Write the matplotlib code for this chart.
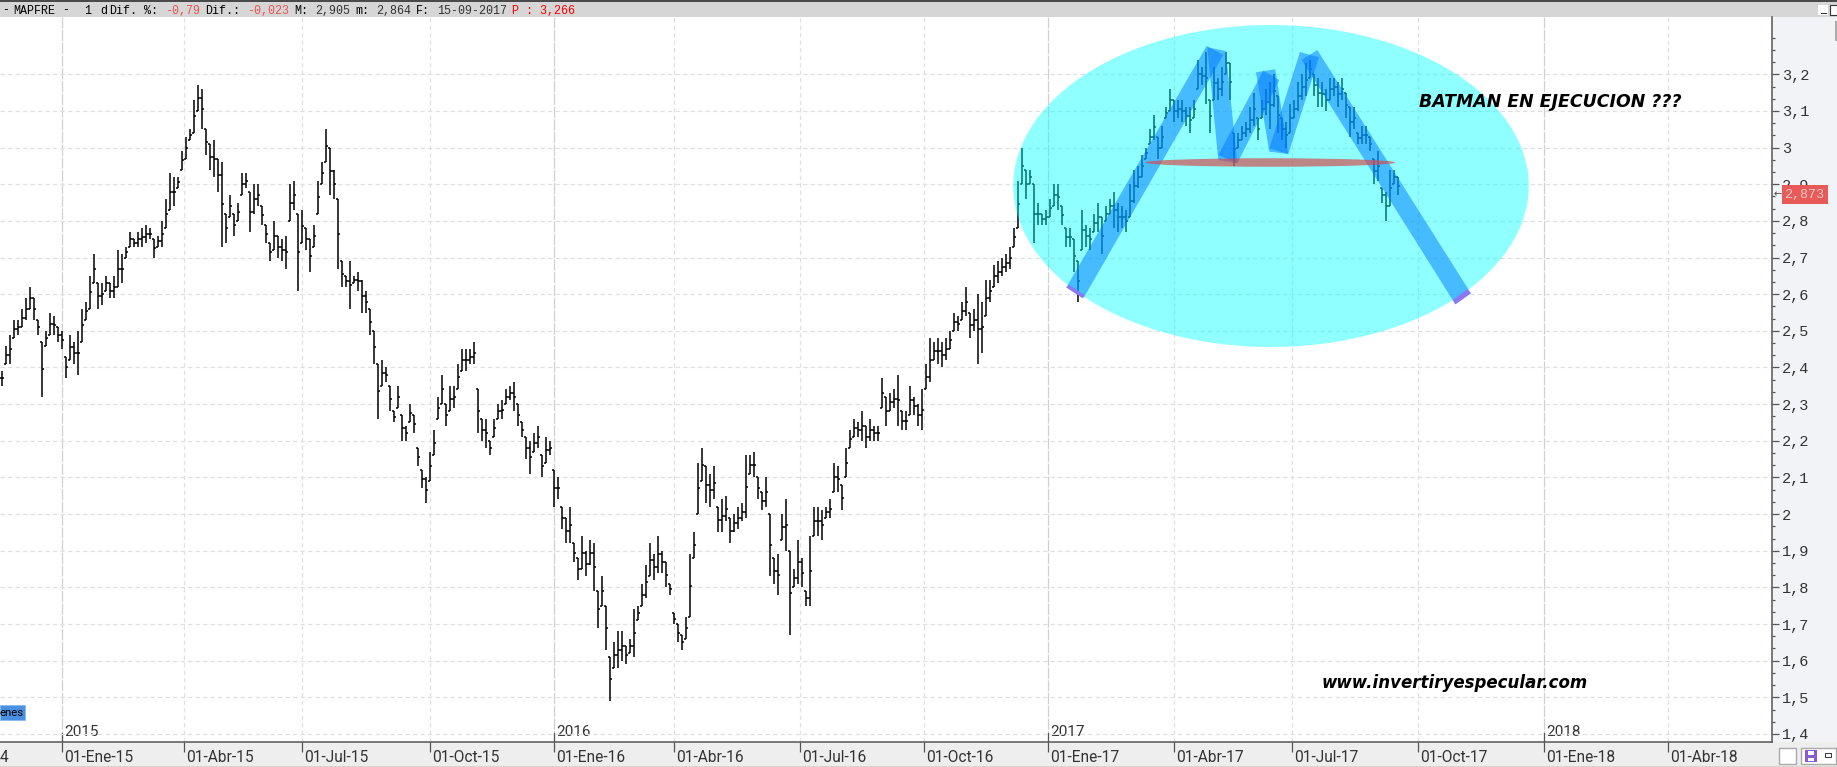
import matplotlib
matplotlib.use("Agg")
import matplotlib.pyplot as plt
import numpy as np
from matplotlib.collections import LineCollection
from matplotlib.patches import Ellipse, Polygon, Rectangle
from matplotlib.transforms import Affine2D, ScaledTranslation

# ---- data: bars read every second session (about 4 px apart) ----
highs_2015 = [2.39,2.46,2.49,2.53,2.53,2.56,2.59,2.62,2.59,2.53,2.47,2.50,2.55,2.54,2.51,2.50,2.43,2.49,2.47,2.50,
 2.56,2.58,2.65,2.71,2.63,2.63,2.65,2.63,2.65,2.72,2.71,2.73,2.77,2.75,2.77,2.78,2.79,2.78,2.75,2.76,
 2.80,2.86,2.93,2.92,2.92,2.99,3.03,3.05,3.13,3.17,3.16,3.05,3.01,3.02,2.97,2.96,2.82,2.87,2.82,2.85,
 2.93,2.93,2.88,2.90,2.90,2.84,2.79,2.74,2.80,2.76,2.75,2.76,2.90,2.91,2.82,2.83,2.78,2.75,2.79,2.91,
 2.96,3.05,3.00,2.94,2.86,2.69,2.65,2.69,2.65,2.66,2.64,2.61,2.56,2.50,2.41,2.42,2.40,2.35,2.28]
lows_2015 = [2.35,2.41,2.41,2.48,2.49,2.51,2.53,2.56,2.53,2.49,2.32,2.46,2.49,2.49,2.47,2.45,2.37,2.42,2.41,2.38,
 2.47,2.53,2.56,2.63,2.56,2.57,2.61,2.59,2.59,2.62,2.63,2.70,2.73,2.73,2.73,2.73,2.74,2.75,2.70,2.73,
 2.73,2.78,2.83,2.84,2.89,2.94,2.97,3.02,3.04,3.10,3.05,2.98,2.94,2.92,2.88,2.73,2.74,2.81,2.76,2.80,
 2.87,2.89,2.77,2.82,2.84,2.79,2.74,2.69,2.72,2.70,2.69,2.67,2.80,2.83,2.61,2.74,2.72,2.66,2.73,2.82,
 2.90,2.96,2.87,2.86,2.67,2.62,2.62,2.56,2.63,2.61,2.55,2.55,2.49,2.41,2.26,2.35,2.36,2.28,2.25]

highs_2016a = [2.35,2.27,2.24,2.30,2.27,2.18,2.12,2.10,2.17,2.23,2.32,2.38,2.30,2.35,2.35,2.41,2.45,2.45,2.45,2.47,
 2.34,2.26,2.26,2.20,2.26,2.30,2.31,2.34,2.35,2.36,2.30,2.25,2.21,2.20,2.22,2.24,2.16,2.21,2.20,2.12,
 2.10,2.02,1.99,2.02,1.92,1.88,1.94,1.90,1.93,1.92,1.79,1.83,1.75,1.61,1.65,1.68,1.68,1.64,1.66,1.74,
 1.75,1.81,1.86,1.92,1.89,1.94,1.90,1.87,1.81,1.73,1.70,1.67,1.72,1.89,1.95,2.14]
lows_2016a = [2.29,2.20,2.20,2.25,2.22,2.13,2.07,2.03,2.09,2.16,2.26,2.30,2.24,2.28,2.29,2.34,2.39,2.39,2.41,2.41,
 2.22,2.20,2.18,2.16,2.21,2.26,2.26,2.30,2.31,2.28,2.24,2.21,2.15,2.11,2.17,2.18,2.10,2.14,2.16,2.02,
 2.04,1.96,1.92,1.92,1.87,1.82,1.85,1.83,1.86,1.79,1.69,1.75,1.63,1.49,1.58,1.58,1.60,1.59,1.62,1.61,
 1.71,1.75,1.77,1.83,1.82,1.84,1.84,1.80,1.78,1.70,1.65,1.63,1.66,1.72,1.88,2.00]

highs_2016b = [2.18,2.13,2.11,2.13,2.02,2.04,2.05,1.99,2.00,2.02,2.03,2.16,2.16,2.17,2.10,2.06,2.10,2.00,1.88,1.89,
 2.00,2.04,1.90,1.85,1.93,1.88,1.79,1.94,2.02,2.02,2.01,2.02,2.04,2.14,2.13,2.08,2.18,2.23,2.26,2.25,
 2.28,2.24,2.26,2.24,2.24,2.37,2.32,2.33,2.34,2.38]
lows_2016b = [2.09,2.03,2.02,2.04,1.95,1.95,1.98,1.92,1.95,1.96,1.98,1.99,2.11,2.10,2.04,2.01,2.02,1.83,1.81,1.78,
 1.93,1.90,1.67,1.80,1.81,1.80,1.75,1.75,1.94,1.94,1.93,1.99,1.99,2.06,2.06,2.01,2.10,2.18,2.21,2.21,
 2.20,2.18,2.20,2.20,2.20,2.29,2.24,2.28,2.29,2.24]

highs_2016c = [2.28,2.28,2.35,2.32,2.30,2.34,2.41,2.48,2.47,2.48,2.47,2.48,2.50,2.55,2.54,2.58,2.62,2.55,2.56,2.60,
 2.58,2.64,2.64,2.68,2.69,2.70,2.71,2.73,2.78,2.91]
lows_2016c = [2.23,2.23,2.27,2.27,2.24,2.23,2.34,2.36,2.42,2.41,2.40,2.42,2.45,2.50,2.50,2.53,2.54,2.48,2.50,2.41,
 2.44,2.54,2.58,2.62,2.63,2.65,2.66,2.67,2.73,2.78]

highs_2017 = [3.00,2.94,2.94,2.90,2.85,2.82,2.83,2.86,2.90,2.90,2.84,2.78,2.78,2.75,2.69,2.83,2.79,2.78,2.82,2.85,
 2.81,2.84,2.86,2.88,2.85,2.84,2.83,2.90,2.94,2.95,2.98,3.00,3.05,3.09,3.03,3.06,3.11,3.16,3.13,3.13,
 3.13,3.11,3.11,3.13,3.24,3.22,3.26,3.13,3.22,3.19,3.22,3.26,3.23,3.04,3.04,3.06,3.07,3.11,3.15,3.08,
 3.13,3.16,3.18,3.20,3.14,3.08,3.07,3.12,3.13,3.18,3.20,3.23,3.24,3.20,3.19,3.18,3.16,3.19,3.19,3.18,
 3.19,3.15,3.11,3.11,3.04,3.06,3.06,3.03,2.97,2.99,2.89,2.88,2.94,2.94,2.92]
lows_2017 = [2.90,2.86,2.90,2.74,2.79,2.79,2.79,2.81,2.84,2.83,2.79,2.73,2.73,2.66,2.58,2.72,2.73,2.72,2.77,2.77,
 2.71,2.80,2.82,2.78,2.77,2.78,2.77,2.81,2.85,2.89,2.92,2.97,3.01,3.02,2.97,3.00,3.08,3.10,3.07,3.08,
 3.07,3.06,3.04,3.08,3.16,3.17,3.12,3.04,3.13,3.13,3.14,3.20,3.13,2.95,3.00,3.02,3.03,3.04,3.06,3.02,
 3.08,3.09,3.05,3.11,3.04,3.02,3.00,3.04,3.08,3.10,3.13,3.14,3.19,3.14,3.11,3.11,3.10,3.13,3.14,3.11,
 3.13,3.08,3.03,3.05,3.01,3.01,3.01,2.99,2.90,2.91,2.85,2.80,2.84,2.90,2.87]

tick_sessions = [31, 92, 151, 215, 277, 337, 400, 462, 524, 587, 646, 709, 772, 834]
tick_labels = ["01-Ene-15","01-Abr-15","01-Jul-15","01-Oct-15","01-Ene-16","01-Abr-16","01-Jul-16",
               "01-Oct-16","01-Ene-17","01-Abr-17","01-Jul-17","01-Oct-17","01-Ene-18","01-Abr-18"]
year_sessions = [31, 277, 524, 772]
year_labels = ["2015", "2016", "2017", "2018"]
price_ticks = [1.4,1.5,1.6,1.7,1.8,1.9,2.0,2.1,2.2,2.3,2.4,2.5,2.6,2.7,2.8,2.9,3.0,3.1,3.2]
price_labels = ["1,4","1,5","1,6","1,7","1,8","1,9","2","2,1","2,2","2,3","2,4","2,5","2,6","2,7","2,8","2,9","3","3,1","3,2"]

highs = np.array(highs_2015 + highs_2016a + highs_2016b + highs_2016c + highs_2017)
lows = np.array(lows_2015 + lows_2016a + lows_2016b + lows_2016c + lows_2017)
sessions = 1 + 2 * np.arange(len(highs))

W, H = 1837, 767
AX_R, AX_T, AX_B = 1772, 17, 742
PX_PER_UNIT = 366.5

fig = plt.figure(figsize=(W / 100, H / 100), dpi=100, facecolor="white")
px = Affine2D().scale(1, -1).translate(0, H)   # image-pixel coordinates for the furniture

# window furniture
def frect(x, y, w, h, fc, ec="none", lw=0, z=0):
    fig.add_artist(Rectangle((x, y), w, h, transform=px, fc=fc, ec=ec, lw=lw, zorder=z))

frect(0, 0, W, 17, "#D6D6D6")
frect(0, 0, W, 1.6, "#4A4A4A", z=1)
frect(AX_R, 17, W - AX_R, AX_B - AX_T, "#F2F3F6")
frect(0, AX_B, W, H - AX_B, "#EEEEEE")
frect(0, 766, W, 1, "#D8D4CC", z=1)

ax = fig.add_axes([0, (H - AX_B) / H, AX_R / W, (AX_B - AX_T) / H], zorder=2)
ax.set_facecolor("white")
ax.set_xlim(0, AX_R / 2)
ax.set_ylim(1.4 - (AX_B - 734) / PX_PER_UNIT, 1.4 + (734 - AX_T) / PX_PER_UNIT)
for s in ("left", "top"):
    ax.spines[s].set_visible(False)
for s in ("right", "bottom"):
    ax.spines[s].set_color("#555555")
    ax.spines[s].set_linewidth(1.1)

# axes and grid
ax.yaxis.tick_right()
ax.set_yticks(price_ticks)
ax.set_yticklabels(price_labels, fontfamily="Liberation Mono", fontsize=11, color="#333333")
ax.set_yticks(np.arange(1.4, 3.33, 0.1 / 3), minor=True)
ax.tick_params(axis="y", which="major", length=4.8, width=0.9, color="#555555", pad=2.5)
ax.tick_params(axis="y", which="minor", length=2.4, width=0.9, color="#555555")
ax.set_xticks(tick_sessions)
ax.set_xticklabels(tick_labels, fontfamily="Roboto", fontsize=11.2, color="#333333", ha="left")
ax.tick_params(axis="x", length=7, width=0.9, color="#555555", pad=-1)
shift = ScaledTranslation(2 / 100, 0, fig.dpi_scale_trans)
for lab in ax.get_xticklabels():
    lab.set_transform(lab.get_transform() + shift)
ax.grid(axis="y", color="#E0E0E0", ls=(0, (3.5, 2.5)), lw=0.9, zorder=0)
for x in tick_sessions:
    strong = x in year_sessions
    ax.axvline(x, color="#D0D0D0" if strong else "#E0E0E0", lw=0.9,
               ls=(0, (9, 1.2)) if strong else (0, (3.5, 2.5)), zorder=0)
for x, y in zip(year_sessions, year_labels):
    ax.plot([x, x], [ax.get_ylim()[0], ax.get_ylim()[0] + 9 / PX_PER_UNIT], color="#555555", lw=0.9, zorder=1)
    ax.annotate(y, (x, ax.get_ylim()[0]), xytext=(1.5, 2.2), textcoords="offset points",
                family="Roboto", fontsize=11, color="#333333", va="bottom", ha="left", zorder=1)

# price bars
mids = (highs + lows) / 2
prev = np.r_[mids[0], mids[:-1]]
opens = np.clip(prev, lows, highs)
segs = [[(x, l), (x, h)] for x, h, l in zip(sessions, highs, lows)]
segs += [[(x - 1, o), (x, o)] for x, o in zip(sessions, opens)]
segs += [[(x, m), (x + 1, m)] for x, m in zip(sessions, mids)]
ax.add_collection(LineCollection(segs, colors="black", linewidths=1.1, zorder=3))

# hand-drawn overlays, placed in image pixels
ax.add_patch(Ellipse((1271, 186), 515.5, 322, transform=px, fc=(0, 1, 1), ec="none", alpha=0.44, zorder=4))
strokes = [
    [(1066.7, 286.7), (1084, 297.3), (1223.3, 55), (1206.7, 46)],
    [(1207.3, 47.3), (1225.7, 51), (1237.3, 163.3), (1218.3, 160)],
    [(1218.3, 155), (1237.3, 163.3), (1279.3, 80), (1263.3, 70.7)],
    [(1256, 72.3), (1275.3, 69.3), (1288.3, 154), (1269.3, 151.7)],
    [(1269.3, 148.3), (1288.3, 154), (1319, 57.3), (1300, 52)],
    [(1301.7, 60), (1317.3, 50), (1470.9, 293.3), (1455.4, 304.3)],
]
for pts in strokes:
    ax.add_patch(Polygon(pts, closed=True, transform=px, fc=(0, 120 / 255, 1), ec="none", alpha=0.5, zorder=5))
for pts in [[(1066, 287.3), (1069.3, 285), (1084.7, 295.3), (1082.7, 298.3)],
            [(1455.4, 304.3), (1470.9, 293.3), (1467.2, 289.3), (1452.8, 300)]]:
    ax.add_patch(Polygon(pts, closed=True, transform=px, fc="#8C78F5", ec="none", zorder=6))
ax.add_patch(Ellipse((1270.3, 162.5), 250, 8.5, transform=px, fc=(0.84, 0.27, 0.27), ec="none", alpha=0.65, zorder=7))

ax.text(1419, 102, "BATMAN EN EJECUCION ???", transform=px, family="DejaVu Sans", weight="bold",
        style="oblique", fontsize=12.5, color="black", va="center", ha="left", zorder=8)
ax.text(1322, 683, "www.invertiryespecular.com", transform=px, family="DejaVu Sans", weight="bold",
        style="oblique", fontsize=12, color="black", va="center", ha="left", zorder=8)

# "enes" badge and clipped axis label
ax.add_patch(Rectangle((0, 705), 25, 15, transform=px, fc="#4A90E2", ec="#8FBDEB", lw=0.7, zorder=8))
ax.text(0, 712.5, "enes", transform=px, family="Roboto", fontsize=8.2, color="black", va="center", ha="left", zorder=9)
fig.text(0, 757.5, "4", transform=px, family="Roboto", fontsize=11.2, color="#333333", va="center", ha="left", zorder=3)

# header read-out
hdr = [(2, "-", "black"), (13, "MAPFRE", "black"), (62, "-", "black"), (84, "1", "black"), (100, "d", "black"),
       (109, "Dif.", "black"), (144, "%:", "black"), (165, "-0,79", "#F05050"), (205, "Dif.:", "black"),
       (247, "-0,023", "#F05050"), (294, "M:", "black"), (315, "2,905", "#333333"), (355, "m:", "black"),
       (376, "2,864", "#333333"), (416, "F:", "black"), (437, "15-09-2017", "#333333"),
       (512, "P : 3,266", "#FF0000")]
for x, t, c in hdr:
    fig.text(x, 10.5, t, transform=px, family="Liberation Mono", fontsize=8.4, color=c, va="center", ha="left", zorder=3)

# current price tag
frect(1782, 185, 46, 18.7, "#E85A5A", z=4)
fig.text(1784, 194.5, "2,873", transform=px, family="Liberation Mono", fontsize=9.6, color="#F0C8C8",
         va="center", ha="left", zorder=5)
fig.text(1773.5, 194.5, "\u2190", transform=px, family="DejaVu Sans", fontsize=7, color="#444444",
         va="center", ha="left", zorder=5)

# window buttons and bottom icons
frect(1818, 5, 10, 10, "white", z=3)
frect(1821, 13, 6, 1, "#333333", z=4)
frect(1830, 5, 7, 10, "white", ec="#333333", lw=0.8, z=3)
frect(1834.5, 21, 2, 20, "#AAAAAA", z=3)
frect(1778.5, 747.5, 17, 16, "white", ec="#AAAAAA", lw=1, z=3)
frect(1800.5, 747.5, 35, 16, "white", ec="#AAAAAA", lw=1, z=3)
frect(1805, 749.5, 12, 12, "#8A5CD0", z=4)
frect(1808, 750.5, 6, 4, "white", z=5)
frect(1808, 757.5, 6, 3.5, "white", z=5)
frect(1825, 753, 6, 4, "white", ec="#333333", lw=0.7, z=4)

fig.savefig("out.png", dpi=100, facecolor=fig.get_facecolor())
